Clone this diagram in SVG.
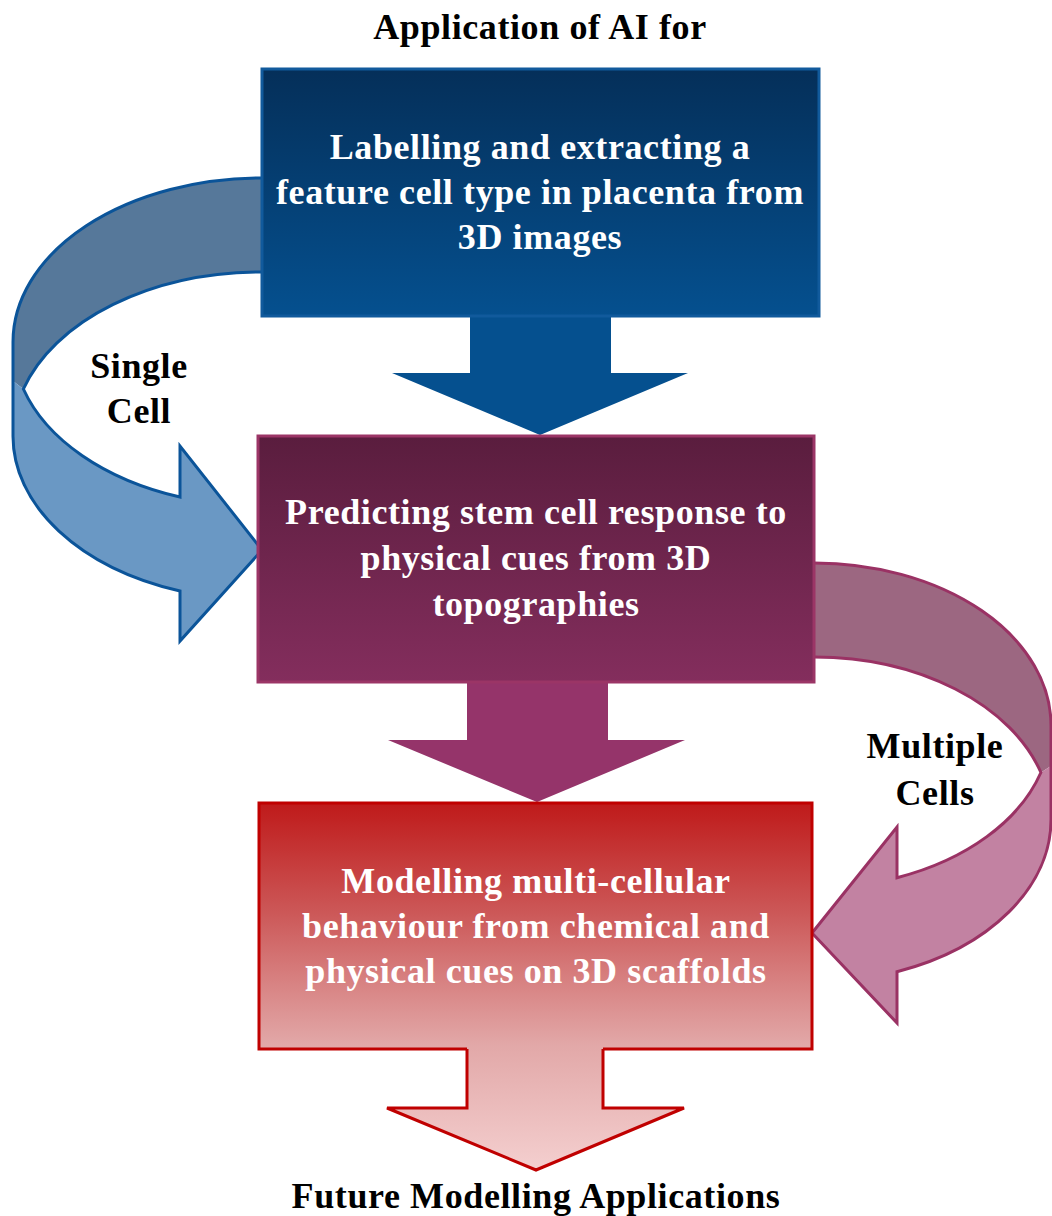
<svg xmlns="http://www.w3.org/2000/svg" width="1052" height="1216" viewBox="0 0 1052 1216">
  <defs>
    <linearGradient id="gBlue" gradientUnits="userSpaceOnUse" x1="0" y1="68" x2="0" y2="316">
      <stop offset="0" stop-color="#052f59"/>
      <stop offset="1" stop-color="#05508f"/>
    </linearGradient>
    <linearGradient id="gPlum" gradientUnits="userSpaceOnUse" x1="0" y1="436" x2="0" y2="802">
      <stop offset="0" stop-color="#5a1d3e"/>
      <stop offset="1" stop-color="#98366c"/>
    </linearGradient>
    <linearGradient id="gRed" gradientUnits="userSpaceOnUse" x1="0" y1="803" x2="0" y2="1170">
      <stop offset="0" stop-color="#bf1a1a"/>
      <stop offset="0.3" stop-color="#cc5858"/>
      <stop offset="0.66" stop-color="#e2a8a8"/>
      <stop offset="1" stop-color="#f4cfcf"/>
    </linearGradient>
    <style>
      .lbl { font-family: "Liberation Serif", "Times New Roman", serif; font-weight: bold; font-size: 36px; text-anchor: middle; letter-spacing: 0.6px; }
      .dark { fill: #000000; }
      .light { fill: #ffffff; }
      .outline { fill: none; stroke-width: 3; stroke-linejoin: miter; }
    </style>
  </defs>

  <!-- curved feedback arrows (drawn beneath the boxes) -->
  <g id="connectors">
    <g id="single-cell-arrow">
      <!-- back face of the band -->
      <path d="M 262 178 A 249 164 0 0 0 13 342 L 13 381 L 23.4 389 A 249 164 0 0 1 262 272 Z" fill="#56789a"/>
      <!-- front face with arrowhead -->
      <path d="M 23.4 389 A 249 164 0 0 0 180 497 L 180 446 L 262 550 L 180 641 L 180 591 A 249 164 0 0 1 13 436 L 13 381 Z" fill="#6a98c4"/>
      <path class="outline" stroke="#0b5499" d="M 262 178 A 249 164 0 0 0 13 342 L 13 436 A 249 164 0 0 0 180 591 L 180 641 L 262 550 L 180 446 L 180 497 A 249 164 0 0 1 23.4 389 A 249 164 0 0 1 262 272"/>
    </g>
    <g id="multiple-cells-arrow">
      <path d="M 814 563 A 237 162.5 0 0 1 1051 725.5 L 1051 766 L 1040.9 772.5 A 237 162.5 0 0 0 814 657 Z" fill="#9c6781"/>
      <path d="M 1040.9 772.5 A 237 162.5 0 0 1 897 877.7 L 897 827 L 812 933 L 897 1023 L 897 971.7 A 237 162.5 0 0 0 1051 819.5 L 1051 766 Z" fill="#c282a2"/>
      <path class="outline" stroke="#9a3264" d="M 814 563 A 237 162.5 0 0 1 1051 725.5 L 1051 819.5 A 237 162.5 0 0 1 897 971.7 L 897 1023 L 812 933 L 897 827 L 897 877.7 A 237 162.5 0 0 0 1040.9 772.5 A 237 162.5 0 0 0 814 657"/>
    </g>
    <!-- straight flow arrows between stages -->
    <path id="down-1" d="M 470 314 L 611 314 L 611 373 L 688 373 L 540 435 L 392 373 L 470 373 Z" fill="#05508f"/>
    <path id="down-2" d="M 467 680 L 608 680 L 608 740 L 685 740 L 537 802 L 388 740 L 467 740 Z" fill="#95346a"/>
  </g>

  <text class="lbl dark" x="540" y="39">Application of AI for</text>

  <g id="node-labelling">
    <rect x="262" y="69" width="557" height="247" fill="url(#gBlue)" stroke="#115a9c" stroke-width="3"/>
    <text class="lbl light" x="540" y="159">Labelling and extracting a</text>
    <text class="lbl light" x="540" y="204">feature cell type in placenta from</text>
    <text class="lbl light" x="540" y="249">3D images</text>
  </g>

  <g id="node-predicting">
    <rect x="258" y="436" width="556" height="246" fill="url(#gPlum)" stroke="#9b3566" stroke-width="3"/>
    <text class="lbl light" x="536" y="524">Predicting stem cell response to</text>
    <text class="lbl light" x="536" y="570">physical cues from 3D</text>
    <text class="lbl light" x="536" y="616">topographies</text>
  </g>

  <g id="node-modelling">
    <rect x="259" y="803" width="553" height="246" fill="url(#gRed)" stroke="#c00000" stroke-width="3"/>
    <text class="lbl light" x="536" y="893">Modelling multi-cellular</text>
    <text class="lbl light" x="536" y="938">behaviour from chemical and</text>
    <text class="lbl light" x="536" y="983">physical cues on 3D scaffolds</text>
  </g>

  <g id="down-3">
    <path d="M 467 1046 L 603 1046 L 603 1108 L 684 1108 L 536 1170 L 387 1108 L 467 1108 Z" fill="url(#gRed)"/>
    <path d="M 467 1049 L 467 1108 L 387 1108 L 536 1170 L 684 1108 L 603 1108 L 603 1049" fill="none" stroke="#c00000" stroke-width="3"/>
  </g>

  <g id="edge-labels">
    <text class="lbl dark" x="139" y="378">Single</text>
    <text class="lbl dark" x="139" y="423">Cell</text>
    <text class="lbl dark" x="935" y="758">Multiple</text>
    <text class="lbl dark" x="935" y="805">Cells</text>
  </g>

  <text class="lbl dark" x="536" y="1208">Future Modelling Applications</text>
</svg>
